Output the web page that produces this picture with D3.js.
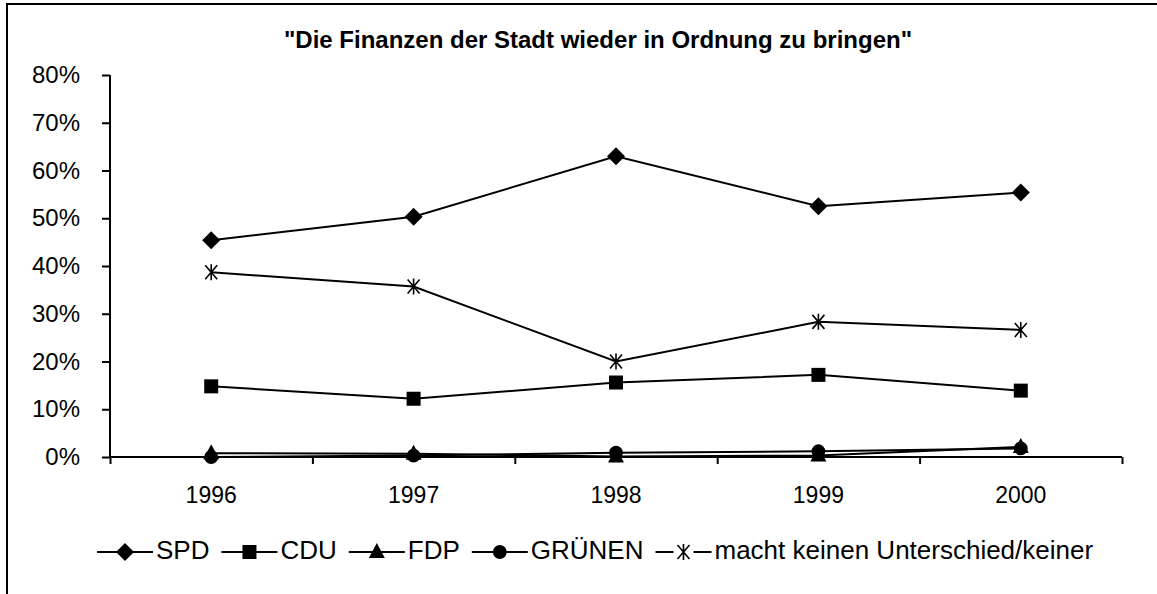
<!DOCTYPE html>
<html>
<head>
<meta charset="utf-8">
<script src="https://cdn.jsdelivr.net/npm/d3@7"></script>
<style>
    body { margin: 0; background: #fff; }
    .tick text { font-family: "Liberation Sans", Arial, sans-serif; fill: #000; }
    .legend-text { font-family: "Liberation Sans", Arial, sans-serif; font-size: 26px; fill: #000; }
    .title { font-family: "Liberation Sans", Arial, sans-serif; font-size: 24px; font-weight: bold; fill: #000; }
</style>
</head>
<body>
<div id="chart"></div>
<script>
var years = ["1996", "1997", "1998", "1999", "2000"]
var spd = [45.4, 50.3, 63.0, 52.5, 55.4]
var cdu = [14.8, 12.2, 15.6, 17.2, 13.9]
var fdp = [0.8, 0.7, 0.1, 0.3, 2.1]
var gruenen = [0.0, 0.3, 0.9, 1.2, 1.8]
var keiner = [38.7, 35.7, 20.0, 28.3, 26.6]
var yTicks = [0, 10, 20, 30, 40, 50, 60, 70, 80]
var seriesNames = ["SPD", "CDU", "FDP", "GRÜNEN", "macht keinen Unterschied/keiner"]

var series = [
    { name: seriesNames[0], values: spd, marker: "diamond" },
    { name: seriesNames[1], values: cdu, marker: "square" },
    { name: seriesNames[2], values: fdp, marker: "triangle" },
    { name: seriesNames[3], values: gruenen, marker: "circle" },
    { name: seriesNames[4], values: keiner, marker: "star" }
]

var W = 1157, H = 594
var margin = { left: 110, right: 35, top: 75, bottom: 137 }
var width = W - margin.left - margin.right,
    height = H - margin.top - margin.bottom

var svg = d3.select("#chart")
    .append("svg")
        .attr("width", W)
        .attr("height", H)

// outer frame (runs off the right/bottom edge like the original)
svg.append("rect")
    .attr("x", 7)
    .attr("y", 4)
    .attr("width", W + 20)
    .attr("height", H + 20)
    .attr("fill", "none")
    .attr("stroke", "#000")
    .attr("stroke-width", 2)

svg.append("text")
    .attr("class", "title")
    .attr("x", 598)
    .attr("y", 48)
    .attr("text-anchor", "middle")
    .text("\"Die Finanzen der Stadt wieder in Ordnung zu bringen\"")

var g = svg.append("g")
    .attr("transform", "translate(" + margin.left + "," + margin.top + ")")

var x = d3.scaleBand()
    .domain(years)
    .range([0, width])

var xEdge = d3.scaleLinear()
    .domain([0, years.length])
    .range([0, width])

var y = d3.scaleLinear()
    .domain([0, 80])
    .range([height, 0])

var yAxis = d3.axisLeft(y)
    .tickValues(yTicks)
    .tickSize(8)
    .tickPadding(22)
    .tickFormat(d => d + "%")

var yAxisCall = g.append("g").call(yAxis)
yAxisCall.select(".domain").attr("stroke-width", 2).attr("d", "M0," + height + "V0")
yAxisCall.selectAll(".tick line").attr("stroke-width", 2)
yAxisCall.selectAll(".tick text").attr("font-size", "24px")

var xTicks = g.append("g")
    .attr("transform", "translate(0," + height + ")")
    .call(d3.axisBottom(xEdge).tickValues(d3.range(years.length + 1)).tickSize(7).tickFormat(""))
xTicks.select(".domain").attr("stroke-width", 2).attr("d", "M0,0H" + width)
xTicks.selectAll(".tick line").attr("stroke-width", 2)

var xLabels = g.append("g")
    .attr("transform", "translate(0," + height + ")")
    .call(d3.axisBottom(x).tickSize(0).tickPadding(30))
xLabels.select(".domain").remove()
xLabels.selectAll(".tick text").attr("font-size", "23px")

var line = d3.line()
    .x((d, i) => x(years[i]) + x.bandwidth() / 2)
    .y(d => y(d))

function markerPath(type) {
    if (type == "diamond") return "M0,-9L9,0L0,9L-9,0Z"
    if (type == "square") return "M-7,-7H7V7H-7Z"
    if (type == "triangle") return "M0,-9L8,6H-8Z"
    if (type == "circle") return d3.symbol(d3.symbolCircle, 150)()
    return "M-6,-7L6,7M6,-7L-6,7M0,-8V8"
}

function drawMarker(sel, type) {
    sel.append("path")
        .attr("d", markerPath(type))
        .attr("fill", type == "star" ? "none" : "#000")
        .attr("stroke", "#000")
        .attr("stroke-width", type == "star" ? 1.6 : 0)
}

series.forEach(function(s){
    var sg = g.append("g")
    sg.append("path")
        .datum(s.values)
        .attr("fill", "none")
        .attr("stroke", "#000")
        .attr("stroke-width", 2)
        .attr("d", line)

    sg.selectAll(".mk")
        .data(s.values)
        .enter()
        .append("g")
            .attr("class", "mk")
            .attr("transform", (d, i) => "translate(" + (x(years[i]) + x.bandwidth() / 2) + "," + y(d) + ")")
            .each(function(){ drawMarker(d3.select(this), s.marker) })
})

// legend: each entry placed after the previous one's text
var legendY = 552
var legendGap = 12
var cursor = 97
var legend = svg.append("g")

series.forEach(function(s){
    var lg = legend.append("g")
        .attr("transform", "translate(" + cursor + "," + legendY + ")")
    var lineLen = 56
    if (s.marker == "star") {
        lg.append("line").attr("x1", 0).attr("x2", 18).attr("y1", 0).attr("y2", 0)
            .attr("stroke", "#000").attr("stroke-width", 2)
        lg.append("line").attr("x1", 38).attr("x2", lineLen).attr("y1", 0).attr("y2", 0)
            .attr("stroke", "#000").attr("stroke-width", 2)
    } else {
        lg.append("line").attr("x1", 0).attr("x2", lineLen).attr("y1", 0).attr("y2", 0)
            .attr("stroke", "#000").attr("stroke-width", 2)
    }
    var mg = lg.append("g").attr("transform", "translate(" + (lineLen / 2) + ",0)")
    drawMarker(mg, s.marker)
    var t = lg.append("text")
        .attr("class", "legend-text")
        .attr("x", lineLen + 3)
        .attr("y", 0)
        .attr("dominant-baseline", "middle")
        .text(s.name)
    cursor += lineLen + 3 + t.node().getComputedTextLength() + legendGap
})
</script>
</body>
</html>
